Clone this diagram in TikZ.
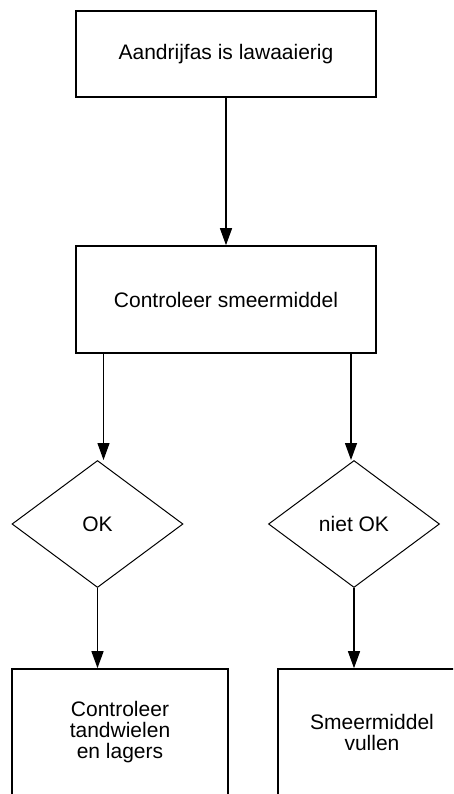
\documentclass[tikz,border=0pt]{standalone}
\usepackage{fontspec}
\setmainfont{Liberation Sans}
\usetikzlibrary{arrows.meta,shapes.geometric}

\begin{document}
\begin{tikzpicture}[x=1pt,y=-1pt,
    actionbox/.style={draw, line width=1.6pt, inner sep=0pt, align=center},
    choice/.style={draw, diamond, line width=1pt, inner sep=0pt,
        minimum width=171pt, minimum height=127pt},
    flow/.style={line width=1.3pt, -{Triangle[length=17pt,width=12pt]}},
    font=\fontsize{21}{21}\selectfont]
\clip (0,0) rectangle (453,794);

\node[actionbox, minimum width=300pt, minimum height=86pt] (noise) at (226,54) {Aandrijfas is lawaaierig};
\node[actionbox, minimum width=300pt, minimum height=107pt] (check) at (226,299.5) {Controleer smeermiddel};

\node[choice] (ok) at (97.5,524) {OK};
\node[choice] (notok) at (354,524) {niet OK};

% bottom row runs past the page edge
\node[actionbox, minimum width=216pt, minimum height=126pt] (gears) at (120,732) {Controleer\\tandwielen\\en lagers};
\node[actionbox, minimum width=188pt, minimum height=126pt] (refill) at (372,732) {Smeermiddel\\vullen};

\draw[flow] (noise.south) -- (check.north);
\draw[flow] ([xshift=6pt]check.south -| ok.north) -- ([xshift=6pt]ok.north);
\draw[flow] ([xshift=-3pt]check.south -| notok.north) -- ([xshift=-3pt]notok.north);
\draw[flow] (ok.south) -- (ok.south |- gears.north);
\draw[flow] (notok.south) -- (notok.south |- refill.north);

\end{tikzpicture}
\end{document}
